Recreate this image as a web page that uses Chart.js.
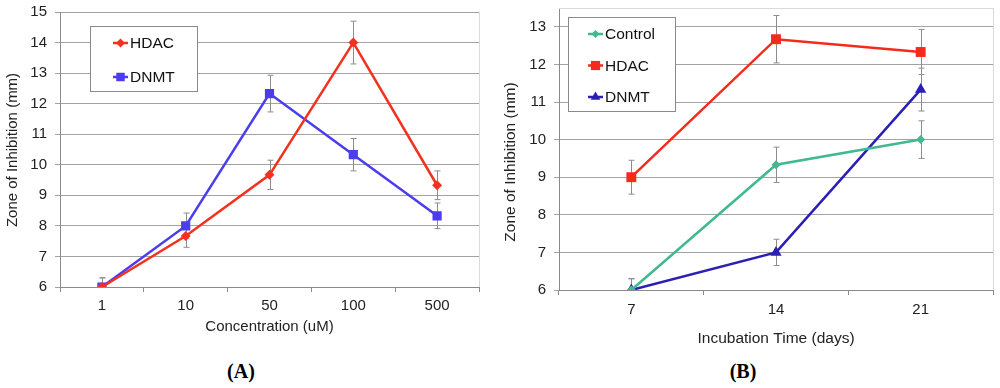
<!DOCTYPE html>
<html>
<head>
<meta charset="utf-8">
<script src="https://cdn.jsdelivr.net/npm/chart.js@4.4.1/dist/chart.umd.min.js"></script>
<style>
  html, body { margin: 0; padding: 0; background: #fff; }
  body { width: 1000px; height: 388px; position: relative; overflow: hidden; font-family: "Liberation Sans", Arial, sans-serif; }
  .panel { position: absolute; top: 0; width: 500px; height: 350px; }
  .lbl { position: absolute; top: 360px; font-family: "Liberation Serif", "Times New Roman", serif; font-weight: bold; font-size: 20px; color: #000; width: 60px; text-align: center; }
</style>
</head>
<body>
<div class="panel" style="left:0"><canvas id="cA" width="500" height="350"></canvas></div>
<div class="panel" style="left:500px"><canvas id="cB" width="500" height="350"></canvas></div>
<div class="lbl" style="left:211px">(A)</div>
<div class="lbl" style="left:713px">(B)</div>
<script>
// ---- Data ----
const concLabels = ['1', '10', '50', '100', '500'];
const hdacA = [6, 7.67, 9.67, 14, 9.33];
const hdacAErr = [0.3, 0.37, 0.48, 0.7, 0.47];
const dnmtA = [6, 8, 12.33, 10.33, 8.33];
const dnmtAErr = [0.3, 0.42, 0.6, 0.53, 0.42];

const dayLabels = ['7', '14', '21'];
const controlB = [6, 9.33, 10];
const controlBErr = [0.3, 0.47, 0.5];
const hdacB = [9, 12.67, 12.33];
const hdacBErr = [0.45, 0.63, 0.6];
const dnmtB = [6, 7, 11.33];
const dnmtBErr = [0.3, 0.35, 0.57];

const yTicksA = [6, 7, 8, 9, 10, 11, 12, 13, 14, 15];
const yTicksB = [6, 7, 8, 9, 10, 11, 12, 13];

// ---- helpers ----
function drawMarker(ctx, style, r, x, y, color) {
  ctx.save();
  ctx.fillStyle = color;
  ctx.beginPath();
  if (style === 'rect') {
    const s = r * Math.SQRT1_2;
    ctx.rect(x - s, y - s, 2 * s, 2 * s);
  } else if (style === 'rectRot') {
    ctx.moveTo(x, y - r); ctx.lineTo(x + r, y); ctx.lineTo(x, y + r); ctx.lineTo(x - r, y);
  } else if (style === 'triangle') {
    ctx.moveTo(x, y - r); ctx.lineTo(x + r * 0.87, y + r * 0.5); ctx.lineTo(x - r * 0.87, y + r * 0.5);
  } else {
    ctx.arc(x, y, r, 0, Math.PI * 2);
  }
  ctx.closePath();
  ctx.fill();
  ctx.restore();
}

const errorBars = {
  id: 'errorBars',
  beforeDatasetsDraw(chart) {
    const ctx = chart.ctx;
    const a = chart.chartArea;
    const ys = chart.scales.y;
    ctx.save();
    ctx.beginPath();
    ctx.rect(a.left, a.top - 20, a.right - a.left, a.bottom - a.top + 20);
    ctx.clip();
    ctx.strokeStyle = '#8c8c8c';
    ctx.lineWidth = 1;
    chart.data.datasets.forEach((ds, i) => {
      const meta = chart.getDatasetMeta(i);
      meta.data.forEach((pt, j) => {
        const e = ds.errors[j];
        if (!e) return;
        const x = Math.round(pt.x) + 0.5;
        const y1 = ys.getPixelForValue(ds.data[j] + e);
        const y2 = ys.getPixelForValue(ds.data[j] - e);
        ctx.beginPath();
        ctx.moveTo(x, y1); ctx.lineTo(x, y2);
        ctx.moveTo(x - 3, y1); ctx.lineTo(x + 3, y1);
        ctx.moveTo(x - 3, y2); ctx.lineTo(x + 3, y2);
        ctx.stroke();
      });
    });
    ctx.restore();
  }
};

const frame = {
  id: 'frame',
  beforeDatasetsDraw(chart, args, opts) {
    const {ctx, chartArea: a} = chart;
    ctx.save();
    ctx.strokeStyle = '#dadada';
    ctx.lineWidth = 1;
    ctx.beginPath();
    ctx.moveTo(Math.round(a.right) + 0.5, a.bottom);
    ctx.lineTo(Math.round(a.right) + 0.5, a.top);
    if (opts.top) {
      ctx.moveTo(a.left, Math.round(a.top) + 0.5);
      ctx.lineTo(a.right, Math.round(a.top) + 0.5);
    }
    ctx.stroke();
    ctx.restore();
  }
};

const yTitle = {
  id: 'yTitle',
  afterDraw(chart, args, opts) {
    const ctx = chart.ctx;
    ctx.save();
    ctx.translate(opts.x, opts.y);
    ctx.rotate(-Math.PI / 2);
    ctx.fillStyle = '#222';
    ctx.font = opts.font;
    ctx.textAlign = 'center';
    ctx.textBaseline = 'middle';
    ctx.fillText(opts.text, 0, 0);
    ctx.restore();
  }
};

const boxLegend = {
  id: 'boxLegend',
  afterDatasetsDraw(chart, args, opts) {
    const ctx = chart.ctx;
    ctx.save();
    ctx.fillStyle = '#fff';
    ctx.fillRect(opts.x, opts.y, opts.w, opts.h);
    ctx.strokeStyle = '#8a8a8a';
    ctx.lineWidth = 1;
    ctx.strokeRect(opts.x + 0.5, opts.y + 0.5, opts.w, opts.h);
    ctx.font = opts.font;
    ctx.textBaseline = 'middle';
    ctx.textAlign = 'left';
    chart.data.datasets.forEach((ds, i) => {
      const cy = opts.y + opts.first + i * opts.gap;
      const lx = opts.x + opts.lineX;
      ctx.strokeStyle = ds.borderColor;
      ctx.lineWidth = 2.5;
      ctx.beginPath();
      ctx.moveTo(lx, cy); ctx.lineTo(lx + 15, cy);
      ctx.stroke();
      drawMarker(ctx, ds.pointStyle, ds.legendRadius, lx + 7.5, cy, ds.borderColor);
      ctx.fillStyle = '#111';
      ctx.fillText(ds.label, lx + 17, cy + 1);
    });
    ctx.restore();
  }
};

function makeDataset(label, data, errors, color, style, radius, legendRadius) {
  return {
    label, data, errors,
    borderColor: color, backgroundColor: color,
    borderWidth: 2.5,
    pointStyle: style, pointRadius: radius, pointHoverRadius: radius,
    pointBorderWidth: 0,
    legendRadius,
    tension: 0
  };
}

Chart.defaults.font.family = '"Liberation Sans", Arial, Helvetica, sans-serif';
Chart.defaults.color = '#222';
Chart.defaults.animation = false;

function commonScales(opt) {
  return {
    x: {
      type: 'category',
      offset: true,
      grid: { offset: true, drawOnChartArea: false, drawTicks: true, tickLength: 5, color: '#8a8a8a' },
      border: { color: '#8a8a8a', width: 1 },
      ticks: { font: { size: 15 }, padding: opt.xPad, color: '#222', maxRotation: 0 },
      title: { display: true, text: opt.xTitle, font: { size: opt.xTitleSize }, color: '#222',
               padding: { top: 0, bottom: opt.xTitlePb } },
      afterFit(s) { s.height = opt.xHeight; s.paddingLeft = 0; s.paddingRight = 0; }
    },
    y: {
      type: 'linear',
      min: 6, max: opt.yMax,
      grid: { color: '#a2a2a2', lineWidth: 1, tickLength: 5, drawTicks: true },
      border: { color: '#8a8a8a', width: 1 },
      ticks: { stepSize: 1, font: { size: 15 }, padding: opt.yPad, color: '#222' },
      afterBuildTicks(s) { s.ticks = opt.yTicks.map(v => ({ value: v })); },
      afterFit(s) { s.width = opt.yWidth; s.paddingTop = 0; s.paddingBottom = 0; }
    }
  };
}

new Chart(document.getElementById('cA'), {
  type: 'line',
  data: {
    labels: concLabels,
    datasets: [
      makeDataset('HDAC', hdacA, hdacAErr, '#f2321f', 'rectRot', 5, 4.5),
      makeDataset('DNMT', dnmtA, dnmtAErr, '#4b3cf0', 'rect', 6.5, 6)
    ]
  },
  options: {
    responsive: false,
    layout: { padding: { top: 12, right: 21, bottom: 0, left: 0 } },
    plugins: {
      legend: { display: false }, tooltip: { enabled: false },
      frame: { top: false },
      yTitle: { text: 'Zone of Inhibition (mm)', x: 13, y: 150, font: '15px "Liberation Sans", Arial, sans-serif' },
      boxLegend: { x: 90, y: 26, w: 107, h: 65, first: 17, gap: 34, lineX: 23, font: '15.5px "Liberation Sans", Arial, sans-serif' }
    },
    scales: commonScales({ xPad: 5, xTitle: 'Concentration (uM)', xTitleSize: 15, xTitlePb: 14, xHeight: 63,
                           yMax: 15, yPad: 8, yWidth: 60, yTicks: yTicksA })
  },
  plugins: [frame, errorBars, boxLegend, yTitle]
});

new Chart(document.getElementById('cB'), {
  type: 'line',
  data: {
    labels: dayLabels,
    datasets: [
      makeDataset('Control', controlB, controlBErr, '#3fb98f', 'rectRot', 4.5, 4),
      makeDataset('HDAC', hdacB, hdacBErr, '#f42a1a', 'rect', 7, 6.5),
      makeDataset('DNMT', dnmtB, dnmtBErr, '#2b20b3', 'triangle', 6.5, 5.5)
    ]
  },
  options: {
    responsive: false,
    layout: { padding: { top: 8, right: 7, bottom: 0, left: 0 } },
    plugins: {
      legend: { display: false }, tooltip: { enabled: false },
      frame: { top: true },
      yTitle: { text: 'Zone of Inhibition (mm)', x: 11, y: 162, font: '15.5px "Liberation Sans", Arial, sans-serif' },
      boxLegend: { x: 68, y: 17, w: 107, h: 94, first: 17, gap: 31.5, lineX: 20, font: '15.5px "Liberation Sans", Arial, sans-serif' }
    },
    scales: commonScales({ xPad: 6, xTitle: 'Incubation Time (days)', xTitleSize: 15.5, xTitlePb: 1.5, xHeight: 60,
                           yMax: 13.5, yPad: 8, yWidth: 59, yTicks: yTicksB })
  },
  plugins: [frame, errorBars, boxLegend, yTitle]
});
</script>
</body>
</html>
